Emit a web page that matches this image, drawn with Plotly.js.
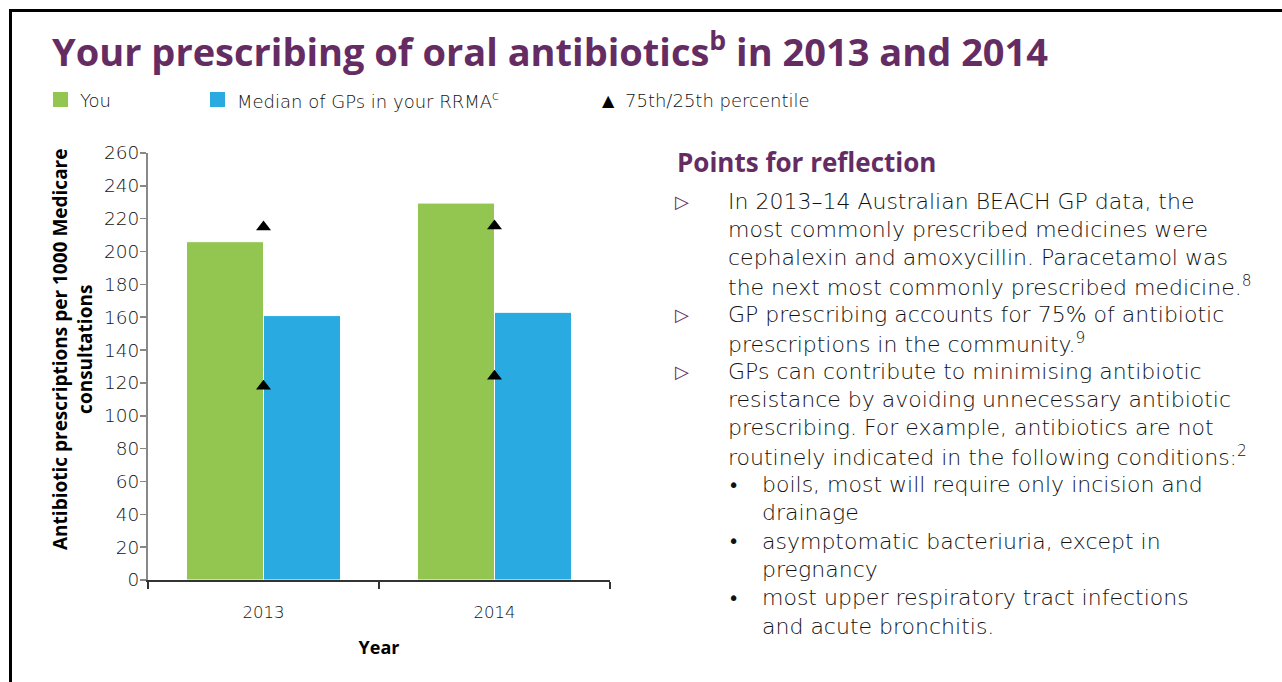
<!DOCTYPE html>
<html>
<head>
<meta charset="utf-8">
<script src="https://cdn.plot.ly/plotly-3.0.1.min.js"></script>
<style>
  html, body { margin: 0; padding: 0; background: #ffffff; }
  #chart { width: 1282px; height: 682px; }
</style>
</head>
<body>
<div id="chart"></div>
<script>
// ---- Data ----
var years = ["2013", "2014"];
var youValues = [206, 229.5];
var medianValues = [161, 163];
var p75Values = [215, 215.5];
var p25Values = [118, 124];
var seriesNames = ["You", "Median of GPs in your RRMA", "75th/25th percentile"];
var yTickValues = [0, 20, 40, 60, 80, 100, 120, 140, 160, 180, 200, 220, 240, 260];

var panelHeading = "Points for reflection";
var panelLines = [
  {kind: "arrow", text: "In 2013\u201314 Australian BEACH GP data, the"},
  {kind: "cont",  text: "most commonly prescribed medicines were"},
  {kind: "cont",  text: "cephalexin and amoxycillin. Paracetamol was"},
  {kind: "cont",  text: "the next most commonly prescribed medicine.<sup>8</sup>"},
  {kind: "arrow", text: "GP prescribing accounts for 75% of antibiotic"},
  {kind: "cont",  text: "prescriptions in the community.<sup>9</sup>"},
  {kind: "arrow", text: "GPs can contribute to minimising antibiotic"},
  {kind: "cont",  text: "resistance by avoiding unnecessary antibiotic"},
  {kind: "cont",  text: "prescribing. For example, antibiotics are not"},
  {kind: "cont",  text: "routinely indicated in the following conditions:<sup>2</sup>"},
  {kind: "dot",   text: "boils, most will require only incision and"},
  {kind: "dotc",  text: "drainage"},
  {kind: "dot",   text: "asymptomatic bacteriuria, except in"},
  {kind: "dotc",  text: "pregnancy"},
  {kind: "dot",   text: "most upper respiratory tract infections"},
  {kind: "dotc",  text: "and acute bronchitis."}
];

// ---- Style ----
var GREEN = "#92c650";
var BLUE = "#29abe2";
var PURPLE = "#652c64";
var TEXT = "#111111";
var HEAD_FONT = "Open Sans";
var BODY_FONT = "DejaVu Sans";

var L = 148, R = 610, T = 153, B = 580, W = 1282, H = 682;
function px(x) { return (x - L) / (R - L); }
function py(y) { return (B - y) / (B - T); }

var traces = [
  {
    type: "bar", name: seriesNames[0], x: years, y: youValues,
    marker: {color: GREEN, line: {color: "#ffffff", width: 1}},
    showlegend: false, hoverinfo: "x+y"
  },
  {
    type: "bar", name: seriesNames[1], x: years, y: medianValues,
    marker: {color: BLUE, line: {color: "#ffffff", width: 1}},
    showlegend: false, hoverinfo: "x+y"
  },
  {
    type: "scatter", mode: "markers", name: seriesNames[2],
    x: years.concat(years), y: p75Values.concat(p25Values),
    marker: {symbol: "triangle-up", size: 13, color: "#000000"},
    showlegend: false, hoverinfo: "x+y"
  }
];

var annotations = [];
var shapes = [];

// Border
shapes.push({type: "line", xref: "paper", yref: "paper", x0: px(9), x1: px(1300), y0: py(10.5), y1: py(10.5), line: {color: "#000", width: 3}});
shapes.push({type: "line", xref: "paper", yref: "paper", x0: px(10.5), x1: px(10.5), y0: py(9), y1: py(700), line: {color: "#000", width: 3}});

// Legend
shapes.push({type: "rect", xref: "paper", yref: "paper", x0: px(53), x1: px(68), y0: py(92), y1: py(107), fillcolor: GREEN, line: {width: 0}});
shapes.push({type: "rect", xref: "paper", yref: "paper", x0: px(210), x1: px(225), y0: py(92), y1: py(107), fillcolor: BLUE, line: {width: 0}});
function legText(x, t) {
  annotations.push({xref: "paper", yref: "paper", x: px(x), y: py(100), xanchor: "left", yanchor: "middle",
    text: t, showarrow: false, font: {family: BODY_FONT, size: 18, color: TEXT, weight: 300}});
}
legText(78, seriesNames[0]);
legText(235, seriesNames[1] + "<sup>c</sup>");
annotations.push({xref: "paper", yref: "paper", x: px(608), y: py(100), xanchor: "center", yanchor: "middle",
  text: "\u25B2", showarrow: false, font: {family: "DejaVu Sans", size: 16, color: "#000"}});
legText(623, seriesNames[2]);

// Y axis title
annotations.push({xref: "paper", yref: "paper", x: px(72), y: py(350), xanchor: "center", yanchor: "middle",
  textangle: -90, showarrow: false, align: "center",
  text: "Antibiotic prescriptions per 1000 Medicare<br>consultations",
  font: {family: HEAD_FONT, size: 19, color: "#000", weight: 700}});

// Right panel
annotations.push({xref: "paper", yref: "paper", x: px(675), y: py(162), xanchor: "left", yanchor: "middle",
  text: panelHeading, showarrow: false, font: {family: HEAD_FONT, size: 26, color: PURPLE, weight: 700}});
var y0 = 201, dy = 28.35;
panelLines.forEach(function (ln, i) {
  var yy = y0 + i * dy;
  var tx = (ln.kind === "dot" || ln.kind === "dotc") ? 760 : 726;
  annotations.push({xref: "paper", yref: "paper", x: px(tx), y: py(yy), xanchor: "left", yanchor: "middle",
    text: ln.text, showarrow: false, font: {family: BODY_FONT, size: 22, color: TEXT, weight: 300}});
  if (ln.kind === "arrow") {
    annotations.push({xref: "paper", yref: "paper", x: px(682), y: py(yy), xanchor: "center", yanchor: "middle",
      text: "\u25B7", showarrow: false, font: {family: "DejaVu Sans", size: 18, color: PURPLE, weight: 300}});
  }
  if (ln.kind === "dot") {
    annotations.push({xref: "paper", yref: "paper", x: px(733), y: py(yy), xanchor: "center", yanchor: "middle",
      text: "\u2022", showarrow: false, font: {family: BODY_FONT, size: 19, color: TEXT}});
  }
});

var layout = {
  width: W, height: H,
  margin: {l: L, r: W - R, t: T, b: H - B, pad: 0},
  paper_bgcolor: "#ffffff", plot_bgcolor: "#ffffff",
  title: {
    text: "Your prescribing of oral antibiotics<sup>b</sup> in 2013 and 2014",
    x: 52 / W, xref: "container", xanchor: "left",
    y: 1 - 53 / H, yref: "container", yanchor: "middle",
    font: {family: HEAD_FONT, size: 38, color: PURPLE, weight: 700}
  },
  barmode: "group", bargap: 0.333, bargroupgap: 0,
  xaxis: {
    type: "category", tickson: "boundaries", ticks: "outside", ticklen: 7, tickwidth: 1.5, tickcolor: "#333",
    showline: true, linecolor: "#333", linewidth: 1.5, showgrid: false, zeroline: false,
    ticklabelstandoff: 17,
    tickfont: {family: BODY_FONT, size: 16.5, color: TEXT, weight: 300},
    title: {text: "Year", standoff: 20, font: {family: HEAD_FONT, size: 18, color: "#000", weight: 700}},
    fixedrange: true
  },
  yaxis: {
    range: [0, 260], tickvals: yTickValues, ticks: "outside", ticklen: 6, tickwidth: 1.5, tickcolor: "#888",
    showline: true, linecolor: "#888", linewidth: 2, showgrid: false, zeroline: false,
    ticklabelstandoff: -3,
    tickfont: {family: BODY_FONT, size: 18.5, color: TEXT, weight: 300},
    fixedrange: true
  },
  showlegend: false,
  annotations: annotations,
  shapes: shapes,
  font: {family: BODY_FONT, color: TEXT}
};

Plotly.newPlot("chart", traces, layout, {displayModeBar: false, staticPlot: true});
</script>
</body>
</html>
